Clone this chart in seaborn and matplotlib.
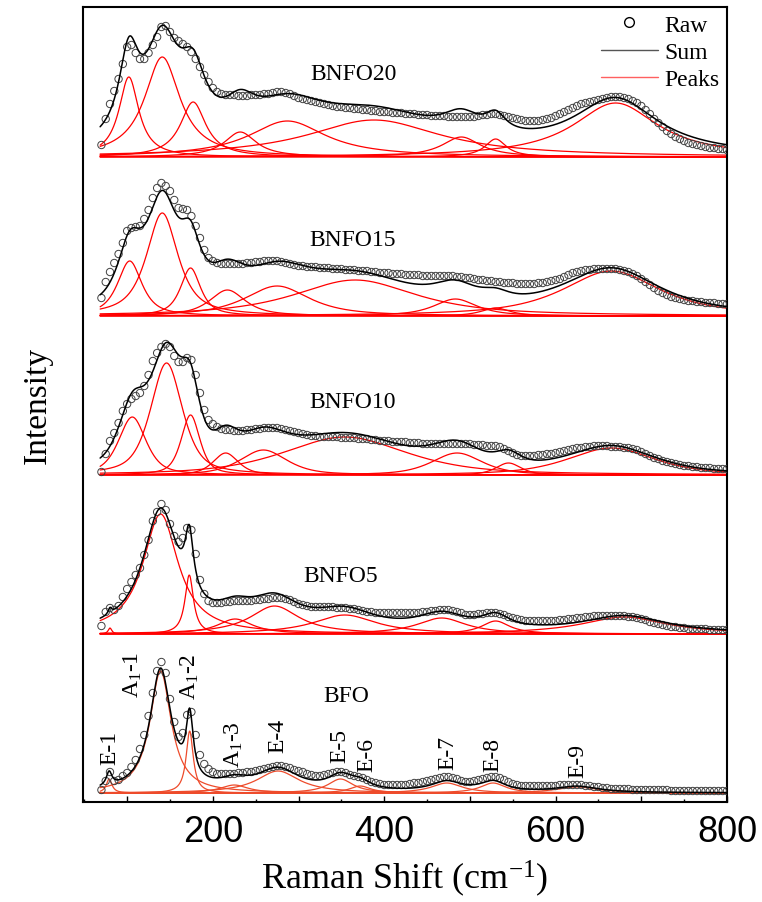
import numpy as np
import pandas as pd
import matplotlib
matplotlib.use("Agg")
import matplotlib.pyplot as plt
import seaborn as sns
from matplotlib.lines import Line2D
from matplotlib.ticker import MultipleLocator, FuncFormatter

sns.set_theme(style="white")
plt.rcParams["font.family"] = ["Liberation Serif", "DejaVu Serif"]
plt.rcParams["mathtext.fontset"] = "custom"
plt.rcParams["mathtext.rm"] = "Liberation Serif"
plt.rcParams["mathtext.it"] = "Liberation Serif:italic"
plt.rcParams["text.color"] = "black"
plt.rcParams["axes.labelcolor"] = "black"
plt.rcParams["xtick.color"] = "black"
plt.rcParams["xtick.labelcolor"] = "black"

# ---------------- data ----------------
samples = ["BFO", "BNFO5", "BNFO10", "BNFO15", "BNFO20"]
shift_start, shift_step = 70, 5   # Raman shift grid of the raw data (cm-1)

raw_bfo = [3, 12, 21, 12, 13, 17, 20, 26, 33, 44,
           58, 77, 100, 122, 131, 120, 94, 71, 56, 60,
           78, 81, 58, 38, 29, 24, 21, 19, 19, 19,
           19, 19, 20, 20, 21, 21, 22, 23, 24, 25,
           26, 27, 27, 26, 25, 23, 22, 21, 19, 18,
           17, 17, 18, 19, 20, 21, 21, 20, 18, 17,
           16, 15, 13, 11, 10, 9, 8, 8, 8, 8,
           8, 8, 9, 10, 10, 11, 12, 13, 14, 15,
           16, 16, 15, 14, 12, 11, 11, 12, 13, 14,
           15, 16, 16, 15, 13, 11, 9, 8, 7, 7,
           7, 7, 7, 7, 7, 7, 7, 8, 8, 8,
           8, 8, 8, 7, 7, 6, 6, 5, 5, 4,
           4, 4, 4, 4, 3, 3, 3, 3, 3, 3,
           3, 3, 3, 2, 2, 2, 2, 2, 2, 2,
           2, 2, 2, 2, 2, 2, 2]
raw_bnfo5 = [8, 22, 26, 24, 28, 37, 45, 52, 59, 66,
             79, 94, 113, 122, 130, 124, 110, 98, 92, 96,
             106, 104, 80, 54, 40, 33, 31, 31, 31, 32,
             32, 33, 33, 33, 33, 33, 34, 34, 35, 35,
             36, 36, 36, 35, 34, 32, 30, 29, 28, 27,
             27, 27, 27, 27, 27, 26, 26, 26, 25, 25,
             24, 23, 22, 22, 21, 21, 21, 21, 21, 21,
             21, 21, 21, 21, 21, 22, 22, 23, 23, 24,
             24, 24, 23, 22, 21, 19, 19, 19, 20, 20,
             21, 21, 21, 20, 19, 17, 16, 15, 14, 13,
             13, 13, 13, 13, 13, 13, 13, 14, 14, 15,
             15, 16, 16, 17, 17, 18, 18, 18, 18, 18,
             18, 18, 18, 17, 17, 16, 15, 14, 12, 11,
             10, 9, 8, 7, 7, 6, 6, 5, 5, 5,
             5, 5, 4, 4, 4, 4, 4]
raw_bnfo10 = [3, 21, 34, 42, 52, 64, 71, 76, 79, 82,
              89, 100, 114, 122, 128, 131, 128, 119, 113, 113,
              117, 115, 100, 82, 65, 55, 51, 48, 46, 45,
              45, 44, 44, 44, 45, 45, 46, 46, 47, 47,
              47, 47, 46, 45, 44, 43, 42, 41, 40, 39,
              39, 38, 38, 38, 38, 38, 37, 37, 37, 37,
              36, 36, 36, 35, 35, 34, 34, 34, 33, 33,
              33, 33, 32, 32, 32, 31, 31, 31, 31, 31,
              31, 31, 31, 31, 31, 31, 31, 30, 30, 30,
              29, 29, 29, 28, 26, 24, 22, 20, 19, 19,
              19, 19, 20, 20, 21, 21, 22, 23, 24, 25,
              26, 27, 27, 28, 28, 29, 29, 29, 29, 28,
              28, 28, 27, 27, 26, 25, 23, 21, 19, 17,
              16, 14, 13, 12, 11, 10, 9, 9, 8, 8,
              7, 7, 7, 6, 6, 6, 6]
raw_bnfo15 = [18, 34, 44, 53, 62, 73, 85, 88, 89, 90,
              97, 106, 118, 128, 133, 130, 125, 116, 108, 107,
              106, 100, 90, 78, 66, 58, 55, 53, 52, 52,
              52, 52, 52, 52, 53, 53, 54, 54, 55, 55,
              55, 55, 54, 53, 52, 51, 50, 50, 49, 49,
              49, 48, 48, 48, 47, 47, 47, 46, 46, 46,
              45, 45, 45, 44, 44, 43, 43, 43, 42, 42,
              42, 41, 41, 41, 41, 40, 40, 40, 40, 40,
              40, 40, 40, 39, 39, 38, 38, 37, 36, 36,
              35, 35, 34, 34, 33, 33, 33, 32, 32, 32,
              32, 32, 33, 33, 34, 35, 36, 37, 39, 41,
              43, 44, 45, 46, 46, 47, 47, 47, 47, 47,
              47, 46, 45, 44, 42, 40, 37, 34, 31, 28,
              25, 23, 21, 19, 18, 17, 16, 15, 15, 14,
              14, 13, 13, 13, 12, 12, 12]
raw_bnfo20 = [12, 38, 53, 66, 78, 93, 110, 112, 104, 98,
              98, 104, 112, 120, 130, 131, 125, 119, 116, 113,
              110, 105, 98, 90, 82, 75, 69, 65, 63, 62,
              62, 62, 61, 61, 61, 62, 62, 62, 63, 63,
              64, 65, 65, 64, 63, 61, 59, 58, 57, 56,
              55, 54, 53, 52, 51, 50, 50, 49, 49, 48,
              48, 47, 47, 46, 46, 45, 45, 45, 44, 44,
              44, 43, 43, 43, 42, 42, 42, 41, 41, 41,
              41, 40, 40, 40, 40, 40, 40, 40, 41, 42,
              42, 43, 43, 42, 41, 40, 39, 38, 37, 36,
              36, 36, 36, 37, 38, 39, 41, 43, 45, 47,
              49, 51, 53, 54, 55, 56, 57, 58, 59, 60,
              60, 60, 59, 58, 56, 54, 51, 47, 43, 38,
              34, 30, 26, 23, 20, 18, 16, 14, 13, 12,
              11, 10, 9, 9, 8, 8, 7]

# fitted peaks: centre (cm-1), height (a.u.), FWHM (cm-1)
pk_center_bfo = [79, 139, 173, 225, 276, 349, 372, 473, 527, 625]
pk_height_bfo = [14, 122, 62, 8, 22, 14, 7, 10, 10, 6]
pk_fwhm_bfo = [8, 30, 10, 40, 60, 36, 30, 44, 36, 60]

pk_center_bnfo5 = [80, 139, 172.5, 226, 272, 354, 467, 530, 680]
pk_height_bnfo5 = [6, 120, 59, 15, 28, 19, 16, 13, 17]
pk_fwhm_bnfo5 = [5, 50, 12, 50, 70, 90, 70, 40, 120]

pk_center_bnfo10 = [106, 146, 174, 215, 259, 354, 485, 545, 665]
pk_height_bnfo10 = [58, 112, 60, 22, 25, 38, 22, 12, 27]
pk_fwhm_bnfo10 = [38, 44, 26, 35, 65, 170, 70, 35, 120]

pk_center_bnfo15 = [103, 141, 174, 217, 275, 366, 483, 530, 665]
pk_height_bnfo15 = [55, 103, 48, 26, 30, 36, 17, 8, 45]
pk_fwhm_bnfo15 = [34, 44, 28, 50, 90, 170, 60, 40, 135]

pk_center_bnfo20 = [102, 141, 177, 232, 287, 388, 490, 530, 670]
pk_height_bnfo20 = [80, 100, 55, 25, 36, 37, 20, 18, 54]
pk_fwhm_bnfo20 = [28, 50, 36, 45, 110, 190, 55, 30, 120]

lorentz_fraction = [1.0, 1.0, 0.6, 0.8, 1.0]

mode_labels = ["E-1", "A$_\\mathregular{1}$-1", "A$_\\mathregular{1}$-2", "A$_\\mathregular{1}$-3",
               "E-4", "E-5", "E-6", "E-7", "E-8", "E-9"]
mode_label_x = [80, 107, 173.5, 224, 276, 348.5, 380, 474.5, 527, 626]
mode_label_y = [29, 96, 94, 26, 41, 31, 22, 24, 22, 16]

raws = [raw_bfo, raw_bnfo5, raw_bnfo10, raw_bnfo15, raw_bnfo20]
centers = [pk_center_bfo, pk_center_bnfo5, pk_center_bnfo10, pk_center_bnfo15, pk_center_bnfo20]
heights = [pk_height_bfo, pk_height_bnfo5, pk_height_bnfo10, pk_height_bnfo15, pk_height_bnfo20]
fwhms = [pk_fwhm_bfo, pk_fwhm_bnfo5, pk_fwhm_bnfo10, pk_fwhm_bnfo15, pk_fwhm_bnfo20]

# ---------------- layout ----------------
STACK = 159
fig = plt.figure(figsize=(7.62, 9.03), dpi=100)
ax = fig.add_axes([83 / 762, 100 / 903, 644 / 762, 795 / 903])

xf = np.linspace(68.5, 800, 1200)


def profile(x, c, h, w, eta):
    lor = 1.0 / (1.0 + ((x - c) / (w / 2.0)) ** 2)
    gau = np.exp(-4.0 * np.log(2.0) * ((x - c) / w) ** 2)
    return h * (eta * lor + (1.0 - eta) * gau)


for i, name in enumerate(samples):
    off = i * STACK
    red = "#ee4b2b" if name == "BFO" else "#ff0000"
    eta = lorentz_fraction[i]
    total = np.zeros_like(xf)
    for c, h, w in zip(centers[i], heights[i], fwhms[i]):
        p = profile(xf, c, h, w, eta)
        total += p
        sns.lineplot(x=xf, y=p + off, ax=ax, color=red, lw=0.9, sort=False,
                     estimator=None, zorder=2)
    raw = np.asarray(raws[i], dtype=float)
    xs = shift_start + shift_step * np.arange(len(raw))
    df = pd.DataFrame({"shift": xs, "intensity": raw + off})
    sns.scatterplot(data=df, x="shift", y="intensity", ax=ax, marker="o",
                    s=28, facecolors="none", edgecolor="#404040",
                    linewidth=0.7, zorder=3)
    sns.lineplot(x=xf, y=total + off, ax=ax, color="black", lw=1.1,
                 sort=False, estimator=None, zorder=4)

# sample names
name_pos = {"BNFO20": (364, 719), "BNFO15": (363, 554), "BNFO10": (363, 392),
            "BNFO5": (349, 217), "BFO": (356, 97)}
for name, (nx, ny) in name_pos.items():
    ax.text(nx, ny, name, fontsize=17, ha="center", va="center", zorder=6)

for lab, lx, ly in zip(mode_labels, mode_label_x, mode_label_y):
    ax.text(lx, ly, lab, rotation=90, fontsize=17, ha="center", va="bottom", zorder=6)

ax.set_xlim(48.5, 800)
ax.set_ylim(-9, 786)
ax.set_yticks([])
ax.xaxis.set_major_locator(MultipleLocator(100))
ax.xaxis.set_minor_locator(MultipleLocator(50))
ax.xaxis.set_major_formatter(FuncFormatter(lambda v, p: f"{int(v)}" if int(round(v)) % 200 == 0 else ""))
ax.tick_params(axis="x", which="major", direction="in", length=4.5, width=1.0,
               bottom=True, top=False, pad=9, labelsize=26, color="black",
               labelcolor="black")
ax.tick_params(axis="x", which="minor", direction="in", length=2.5, width=1.0,
               bottom=True, top=False, color="black")
for lbl in ax.get_xticklabels():
    lbl.set_fontfamily(["Liberation Sans", "DejaVu Sans"])
for s in ax.spines.values():
    s.set_color("black")
    s.set_linewidth(1.5)

ax.set_xlabel("Raman Shift (cm$^{-1}$)", fontsize=26, labelpad=6, color="black")
ax.set_ylabel("Intensity", fontsize=24, labelpad=22, color="black")

handles = [Line2D([], [], marker="o", ls="", mfc="none", mec="black", ms=7, mew=1.0),
           Line2D([], [], color="#555555", lw=1.0),
           Line2D([], [], color="#ff6060", lw=1.0)]
leg = ax.legend(handles, ["Raw", "Sum", "Peaks"], loc="upper right", frameon=False,
                fontsize=17, handlelength=2.4, handletextpad=0.3, labelspacing=0.25,
                borderpad=0.2, borderaxespad=0.1, bbox_to_anchor=(1.0, 1.0))
for t in leg.get_texts():
    t.set_color("black")

fig.savefig("out.png", dpi=100)
